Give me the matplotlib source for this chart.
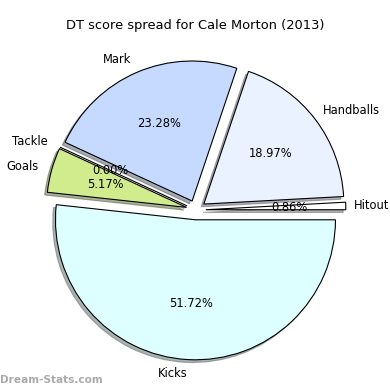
import matplotlib
matplotlib.use("Agg")
import matplotlib.pyplot as plt

# slices, counter-clockwise from 3 o'clock
labels = ['Hitout', 'Handballs', 'Mark', 'Tackle', 'Goals', 'Kicks']
values = [0.86, 18.97, 23.28, 0.00, 5.17, 51.72]
colors = ['#ffffff', '#eaf1ff', '#c6d9ff', '#ffd0d0', '#d1ec8c', '#ddffff']
explode = [0.07, 0.07, 0.07, 0.07, 0.07, 0.07]

fig = plt.figure(figsize=(3.9, 3.9), dpi=100)
ax = fig.add_axes([0, 0, 1, 1])
wedges, texts, autotexts = ax.pie(
    values, labels=labels, colors=colors, explode=explode,
    autopct='%1.2f%%', startangle=0,
    shadow={'ox': -0.014, 'oy': -0.014, 'shade': 0.6},
    wedgeprops={'edgecolor': 'black', 'linewidth': 0.8},
    textprops={'fontsize': 8.3})

# right-hand labels sit a touch closer in the reference
for t in texts:
    x, y = t.get_position()
    if x > 0:
        shift = 0.04 if t.get_text() == 'Hitout' else 0.025
        t.set_position((x - shift, y))

# pie centre ~ (196, 210) px from top-left, radius ~140 px
px = 140.0
cx, cy = 196, 210
ax.set_xlim(-cx / px, (390 - cx) / px)
ax.set_ylim(-(390 - cy) / px, cy / px)
ax.set_aspect('equal')
ax.axis('off')

fig.text(0.5, 1 - 25 / 390, 'DT score spread for Cale Morton (2013)',
         ha='center', va='center', fontsize=9.4)
fig.text(0.0, 1 - 380 / 390, 'Dream-Stats.com', ha='left', va='center',
         fontsize=7.6, color='#aaaaaa', fontweight='bold')

fig.savefig('out.png', dpi=100)
